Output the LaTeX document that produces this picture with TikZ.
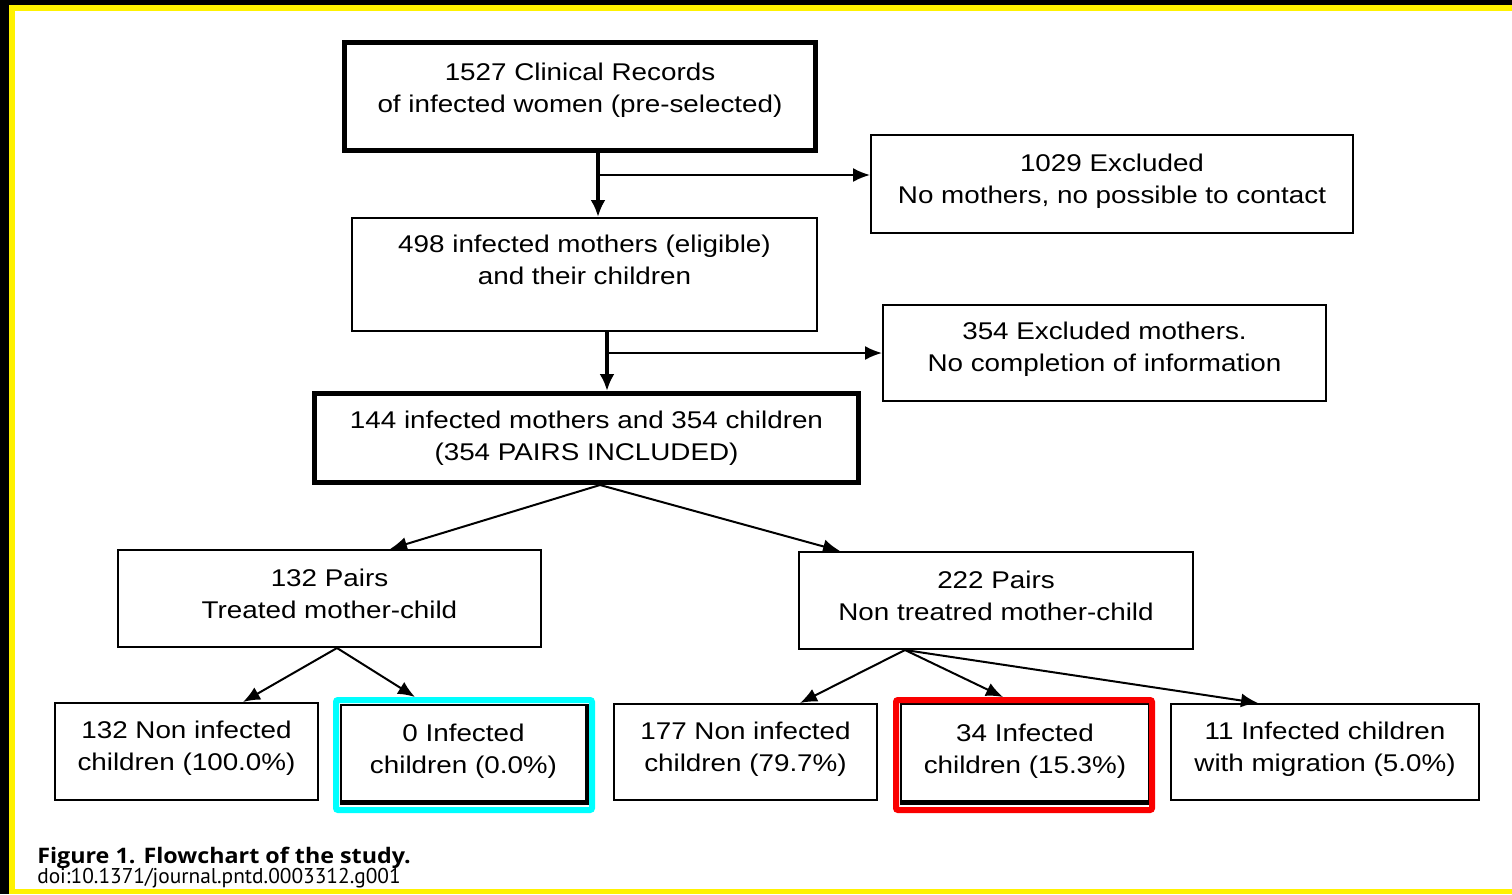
\documentclass[tikz,border=0pt]{standalone}
\usepackage{fontspec}
\newfontfamily\boxfont[FakeStretch=1.15]{Liberation Sans}
\newfontfamily\capfont{PT Sans}
\newfontfamily\titlefont[FakeStretch=1.09]{Open Sans}
\usetikzlibrary{arrows.meta}
\definecolor{hlcyan}{RGB}{0,255,255}
\definecolor{hlred}{RGB}{250,0,0}
\newlength\pxu
\setlength\pxu{0.25mm}
\newcommand\lift[1]{\rule[-#1\pxu]{0pt}{0pt}}

\tikzset{
    box/.style={draw, line width=0.5mm, inner sep=0pt, align=center,
        font=\boxfont\fontsize{17.2pt}{22.7pt}\selectfont},
    bold/.style={box, line width=1.25mm},
    dims/.style 2 args={minimum width=#1*0.25mm, minimum height=#2*0.25mm},
    hilite/.style={draw=#1, line width=1.5mm, rounded corners=0.5mm, inner sep=0pt},
    arr/.style={line width=0.5mm, -{Latex[length=4.25mm,width=3.5mm]}},
    bigarr/.style={line width=1mm, -{Latex[length=4.25mm,width=3.75mm]}}
}

\begin{document}
\begin{tikzpicture}[x=0.25mm, y=-0.25mm]

    \useasboundingbox (0,0) rectangle (1512,894);
    \fill[black] (0,0) rectangle (1512,894);
    \fill[yellow] (9,5) rectangle (1512,894);
    \fill[white] (15,11) rectangle (1512,889);

    \node[bold, dims={471}{108}] (records) at (580,96.5)
        {1527 Clinical Records\\of infected women (pre-selected)\lift{18}};
    \node[box, dims={482}{98}] (excl1) at (1112,184)
        {1029 Excluded\\No mothers, no possible to contact\lift{10}};
    \node[box, dims={465}{113}] (eligible) at (584.5,274.5)
        {498 infected mothers (eligible)\\and their children\lift{29}};
    \node[box, dims={443}{96}] (excl2) at (1104.5,353)
        {354 Excluded mothers.\\No completion of information\lift{12}};
    \node[bold, dims={544}{89}] (included) at (586.5,438)
        {144 infected mothers and 354 children\\(354 PAIRS INCLUDED)\lift{2}};

    \node[box, dims={423}{97}] (treated) at (329.5,598.5)
        {132 Pairs\\Treated mother-child\lift{10}};
    \node[box, dims={394}{97}] (untreated) at (996,600.5)
        {222 Pairs\\Non treatred mother-child\lift{10}};

    \node[box, dims={263}{97}] (b1) at (186.5,751.5)
        {132 Non infected\\children (100.0\%)\lift{12}};
    \node[box, dims={245}{96}] (b2) at (463.5,753)
        {0 Infected\\children (0.0\%)\lift{8}};
    \node[box, dims={263}{96}] (b3) at (745.5,752)
        {177 Non infected\\children (79.7\%)\lift{10}};
    \node[box, dims={248}{97}] (b4) at (1025,752.5)
        {34 Infected\\children (15.3\%)\lift{7}};
    \node[box, dims={308}{96}] (b5) at (1325,752)
        {11 Infected children\\with migration (5.0\%)\lift{10}};

    \draw[line width=1.25mm] (b2.south west) -- (b2.south east) -- (b2.north east);
    \draw[line width=1.25mm] (b4.south west) -- (b4.south east) -- (b4.north east);

    \node[hilite=hlcyan, dims={256}{110}] (cyanbox) at (464,755) {};
    \node[hilite=hlred, dims={256}{110}] (redbox) at (1024,755) {};

    \coordinate (j1) at (598,175);
    \coordinate (j2) at (607,353);

    \draw[bigarr] (records.south -| j1) -- (eligible.north -| j1);
    \draw[arr] (j1) -- (j1 -| excl1.west);
    \draw[bigarr] (eligible.south -| j2) -- (included.north -| j2);
    \draw[arr] (j2) -- (excl2.west);

    \draw[arr] (included.south -| 600,0) -- (treated.north -| 390,0);
    \draw[arr] (included.south -| 600,0) -- (untreated.north -| 840,0);

    \draw[arr] (treated.south -| 337,0) -- (b1.north -| 243,0);
    \draw[arr] (treated.south -| 337,0) -- (cyanbox.north -| 415,0);

    \draw[arr] (untreated.south -| 905,0) -- (b3.north -| 800,0);
    \draw[arr] (untreated.south -| 905,0) -- (redbox.north -| 1003,0);
    \draw[arr] (untreated.south -| 905,0) -- (b5.north -| 1258,0);

    \node[anchor=base west, inner sep=0pt, font=\titlefont\bfseries\fontsize{15.2pt}{18pt}\selectfont]
        (fig) at (37,863) {Figure 1. Flowchart of the study.};
    \node[anchor=base west, inner sep=0pt, font=\capfont\fontsize{15.2pt}{18pt}\selectfont]
        (doi) at (37,883) {doi:10.1371/journal.pntd.0003312.g001};
\end{tikzpicture}
\end{document}
